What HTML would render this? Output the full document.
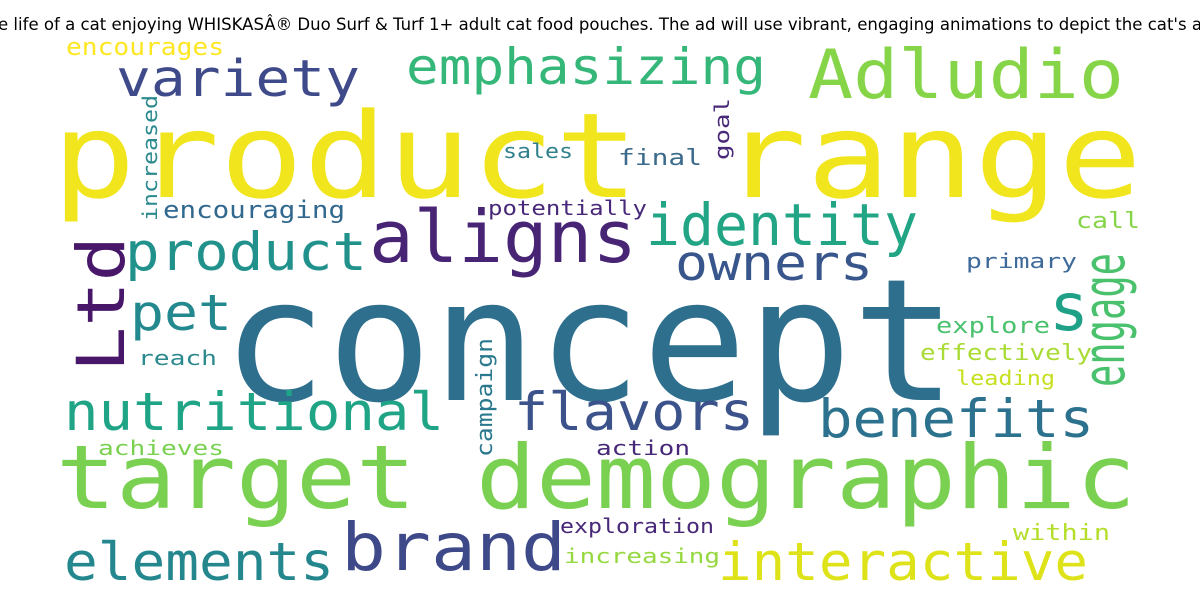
<!DOCTYPE html>
<html><head><meta charset="utf-8"><style>
html,body{margin:0;padding:0;background:#fff;width:1200px;height:600px;overflow:hidden}
svg text{font-family:"DejaVu Sans Mono","Liberation Mono",monospace}
</style></head><body>
<svg width="1200" height="600" viewBox="0 0 1200 600" xmlns="http://www.w3.org/2000/svg">
<text x="-2" y="30" font-size="16.5" fill="#000" style="font-family:'DejaVu Sans',sans-serif" textLength="1204" lengthAdjust="spacingAndGlyphs">e life of a cat enjoying WHISKASÂ® Duo Surf &amp; Turf 1+ adult cat food pouches. The ad will use vibrant, engaging animations to depict the cat's a</text>
<text x="52" y="197" font-size="118" fill="#f1e51d" textLength="1090" lengthAdjust="spacingAndGlyphs">product range</text>
<text x="222" y="400" font-size="170" fill="#2e6f8e" textLength="735" lengthAdjust="spacingAndGlyphs">concept</text>
<text x="56" y="508" font-size="88" fill="#7ad151" textLength="1080" lengthAdjust="spacingAndGlyphs">target demographic</text>
<text x="808" y="98" font-size="68" fill="#86d549" textLength="316" lengthAdjust="spacingAndGlyphs">Adludio</text>
<text x="406" y="84" font-size="50" fill="#35b779" textLength="360" lengthAdjust="spacingAndGlyphs">emphasizing</text>
<text x="116" y="96" font-size="51" fill="#3e4a89" textLength="244" lengthAdjust="spacingAndGlyphs">variety</text>
<text x="66" y="55" font-size="24" fill="#fde725" textLength="158" lengthAdjust="spacingAndGlyphs">encourages</text>
<text x="503" y="158" font-size="20" fill="#31818d" textLength="70" lengthAdjust="spacingAndGlyphs">sales</text>
<text x="618" y="165" font-size="22" fill="#3b6a8c" textLength="84" lengthAdjust="spacingAndGlyphs">final</text>
<text x="163" y="218" font-size="24" fill="#31688e" textLength="182" lengthAdjust="spacingAndGlyphs">encouraging</text>
<text x="488" y="215" font-size="20" fill="#482878" textLength="159" lengthAdjust="spacingAndGlyphs">potentially</text>
<text x="369" y="262" font-size="72" fill="#482475" textLength="268" lengthAdjust="spacingAndGlyphs">aligns</text>
<text x="646" y="245" font-size="58" fill="#21a585" textLength="272" lengthAdjust="spacingAndGlyphs">identity</text>
<text x="125" y="270" font-size="53" fill="#21918c" textLength="242" lengthAdjust="spacingAndGlyphs">product</text>
<text x="675" y="280" font-size="49" fill="#39568c" textLength="198" lengthAdjust="spacingAndGlyphs">owners</text>
<text x="1049" y="330" font-size="66" fill="#1fa187" textLength="40" lengthAdjust="spacingAndGlyphs">s</text>
<text x="1076" y="228" font-size="22" fill="#86d549" textLength="64" lengthAdjust="spacingAndGlyphs">call</text>
<text x="966" y="268" font-size="20" fill="#3e6a9a" textLength="111" lengthAdjust="spacingAndGlyphs">primary</text>
<text x="130" y="330" font-size="50" fill="#23898e" textLength="102" lengthAdjust="spacingAndGlyphs">pet</text>
<text x="936" y="333" font-size="22" fill="#4ac16d" textLength="114" lengthAdjust="spacingAndGlyphs">explore</text>
<text x="138" y="365" font-size="20" fill="#2c8a8e" textLength="79" lengthAdjust="spacingAndGlyphs">reach</text>
<text x="920" y="360" font-size="22" fill="#a8db34" textLength="172" lengthAdjust="spacingAndGlyphs">effectively</text>
<text x="956" y="385" font-size="20" fill="#c8e020" textLength="99" lengthAdjust="spacingAndGlyphs">leading</text>
<text x="64" y="430" font-size="53" fill="#20a486" textLength="380" lengthAdjust="spacingAndGlyphs">nutritional</text>
<text x="514" y="430" font-size="53" fill="#3b528b" textLength="240" lengthAdjust="spacingAndGlyphs">flavors</text>
<text x="818" y="437" font-size="53" fill="#2c728e" textLength="276" lengthAdjust="spacingAndGlyphs">benefits</text>
<text x="98" y="455" font-size="20" fill="#7ad151" textLength="126" lengthAdjust="spacingAndGlyphs">achieves</text>
<text x="596" y="455" font-size="20" fill="#482878" textLength="94" lengthAdjust="spacingAndGlyphs">action</text>
<text x="560" y="533" font-size="20" fill="#482878" textLength="154" lengthAdjust="spacingAndGlyphs">exploration</text>
<text x="1013" y="540" font-size="22" fill="#b5de2b" textLength="97" lengthAdjust="spacingAndGlyphs">within</text>
<text x="564" y="563" font-size="20" fill="#95d840" textLength="156" lengthAdjust="spacingAndGlyphs">increasing</text>
<text x="341" y="570" font-size="66" fill="#3e4989" textLength="225" lengthAdjust="spacingAndGlyphs">brand</text>
<text x="64" y="580" font-size="53" fill="#24878e" textLength="270" lengthAdjust="spacingAndGlyphs">elements</text>
<text x="718" y="580" font-size="53" fill="#dde318" textLength="370" lengthAdjust="spacingAndGlyphs">interactive</text>
<text transform="translate(157,221) rotate(-90)" font-size="20" fill="#2a8a8e" textLength="126" lengthAdjust="spacingAndGlyphs">increased</text>
<text transform="translate(729,160) rotate(-90)" font-size="20" fill="#482878" textLength="62" lengthAdjust="spacingAndGlyphs">goal</text>
<text transform="translate(124,372) rotate(-90)" font-size="66" fill="#481769" textLength="136" lengthAdjust="spacingAndGlyphs">Ltd</text>
<text transform="translate(1124,387) rotate(-90)" font-size="58" fill="#4ac16d" textLength="134" lengthAdjust="spacingAndGlyphs">engage</text>
<text transform="translate(492,457) rotate(-90)" font-size="22" fill="#2a788e" textLength="119" lengthAdjust="spacingAndGlyphs">campaign</text>
</svg>
</body></html>
